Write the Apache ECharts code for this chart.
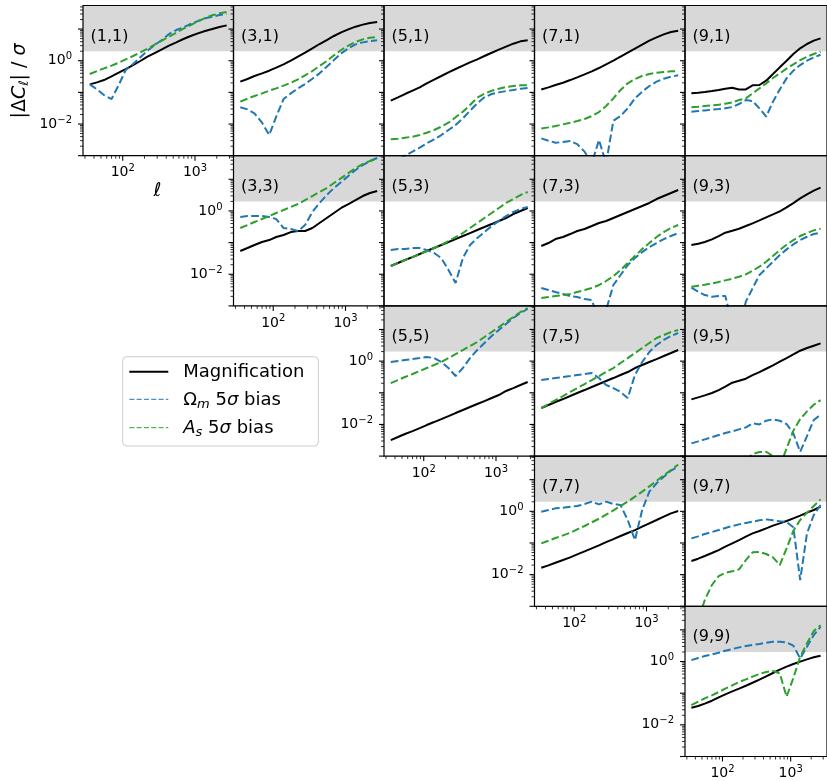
<!DOCTYPE html>
<html><head><meta charset="utf-8">
<script src="https://cdn.jsdelivr.net/npm/echarts@6/dist/echarts.min.js"></script>
<style>html,body{margin:0;padding:0;background:#fff}#c{width:827px;height:781px}</style>
</head><body><div id="c"></div>
<script>
// ---------------- data ----------------
const ell = [35, 44, 55, 70, 88, 110, 139, 175, 220, 276, 348, 437, 550, 692, 871, 1095, 1378, 1734, 2181, 2744];

const xMajorTicks = [100, 1000];
const xMinorTicks = [30, 40, 50, 60, 70, 80, 90, 200, 300, 400, 500, 600, 700, 800, 900, 2000, 3000];
const yMajorTicks = [0.001, 0.01, 0.1, 1, 10];
const yMinorTicks = [0.002, 0.003, 0.004, 0.005, 0.006, 0.007, 0.008, 0.009,
                     0.02, 0.03, 0.04, 0.05, 0.06, 0.07, 0.08, 0.09,
                     0.2, 0.3, 0.4, 0.5, 0.6, 0.7, 0.8, 0.9,
                     2, 3, 4, 5, 6, 7, 8, 9, 20, 30, 40, 50];
const xLabelValues = [100, 1000];
const xLabelExps = ['2', '3'];
const yLabelValues = [0.01, 1];
const yLabelExps = ['\u22122', '0'];
const bandLow = 2;
const seriesNames = ['Magnification', '\u03a9m 5\u03c3 bias', 'As 5\u03c3 bias'];

const mag_1_1 = [0.179, 0.207, 0.245, 0.321, 0.419, 0.547, 0.731, 0.98, 1.34, 1.75, 2.29, 2.99, 3.80, 4.85, 6.04, 7.33, 8.69, 10.0, 11.6, 13.1];
const om_1_1  = [0.179, 0.124, 0.0824, 0.0617, 0.171, 0.508, 0.787, 1.28, 2.07, 3.13, 4.51, 6.98, 9.33, 11.3, 14.5, 17.9, 21.8, 24.6, 27.8, 29.9];
const as_1_1  = [0.380, 0.473, 0.574, 0.697, 0.867, 1.10, 1.41, 1.84, 2.40, 3.21, 4.30, 5.74, 7.69, 10.3, 13.4, 17.5, 22.3, 27.2, 31.4, 34.6];

const mag_3_1 = [0.218, 0.264, 0.329, 0.399, 0.484, 0.603, 0.767, 1.00, 1.34, 1.79, 2.46, 3.37, 4.51, 6.04, 7.87, 9.79, 11.9, 13.8, 15.5, 16.7];
const om_3_1  = [0.0337, 0.0291, 0.0217, 0.0110, 0.00450, 0.0171, 0.0617, 0.0931, 0.134, 0.184, 0.270, 0.399, 0.649, 1.05, 1.71, 2.46, 3.29, 3.80, 4.20, 4.41];
const as_3_1  = [0.0508, 0.0632, 0.0767, 0.0931, 0.113, 0.134, 0.163, 0.202, 0.258, 0.345, 0.473, 0.681, 0.98, 1.48, 2.18, 2.99, 3.90, 4.73, 5.35, 5.61];

const mag_5_1 = [0.0546, 0.0697, 0.0887, 0.113, 0.144, 0.193, 0.252, 0.329, 0.430, 0.547, 0.697, 0.889, 1.10, 1.41, 1.79, 2.23, 2.78, 3.45, 4.09, 4.41];
const om_5_1  = [0.000449, 0.000729, 0.00100, 0.00134, 0.00179, 0.00245, 0.00328, 0.00450, 0.00647, 0.00929, 0.0151, 0.0264, 0.0450, 0.0697, 0.0887, 0.100, 0.110, 0.119, 0.131, 0.137];
const as_5_1  = [0.00328, 0.00344, 0.00370, 0.00398, 0.00450, 0.00532, 0.00647, 0.00824, 0.0110, 0.0163, 0.0245, 0.0398, 0.0679, 0.0910, 0.113, 0.131, 0.148, 0.159, 0.167, 0.167];

const mag_7_1 = [0.124, 0.144, 0.171, 0.202, 0.245, 0.298, 0.371, 0.461, 0.588, 0.767, 1.00, 1.34, 1.79, 2.40, 3.21, 4.30, 5.47, 6.81, 8.07, 8.89];
const om_7_1  = [0.00352, 0.00298, 0.00257, 0.00270, 0.00290, 0.00233, 0.00134, 0.000571, 0.00313, 0.000571, 0.0127, 0.0179, 0.0313, 0.0647, 0.105, 0.159, 0.218, 0.270, 0.313, 0.345];
const as_7_1  = [0.00729, 0.00785, 0.00865, 0.00977, 0.0110, 0.0124, 0.0144, 0.0179, 0.0239, 0.0371, 0.0647, 0.119, 0.193, 0.264, 0.329, 0.380, 0.419, 0.440, 0.461, 0.473];

const mag_9_1 = [0.0931, 0.0977, 0.103, 0.110, 0.119, 0.131, 0.141, 0.124, 0.124, 0.167, 0.171, 0.234, 0.380, 0.618, 1.00, 1.63, 2.46, 3.37, 4.30, 5.09];
const om_9_1  = [0.0245, 0.0258, 0.0270, 0.0284, 0.0298, 0.0313, 0.0344, 0.0429, 0.0573, 0.0533, 0.0313, 0.0171, 0.0508, 0.124, 0.277, 0.484, 0.731, 1.00, 1.28, 1.55];
const as_9_1  = [0.0337, 0.0353, 0.0371, 0.0389, 0.0408, 0.0440, 0.0484, 0.0573, 0.0647, 0.0931, 0.134, 0.193, 0.284, 0.399, 0.560, 0.767, 1.05, 1.34, 1.63, 1.93];

const mag_3_3 = [0.0541, 0.0673, 0.0836, 0.104, 0.120, 0.150, 0.173, 0.215, 0.232, 0.232, 0.288, 0.415, 0.597, 0.859, 1.24, 1.65, 2.21, 2.96, 3.67, 4.26];
const om_3_3  = [0.641, 0.690, 0.690, 0.690, 0.641, 0.555, 0.288, 0.268, 0.232, 0.358, 0.923, 1.78, 3.18, 5.28, 8.18, 12.7, 19.6, 28.2, 37.8, 46.9];
const as_3_3  = [0.288, 0.358, 0.446, 0.555, 0.690, 0.859, 1.07, 1.33, 1.65, 2.21, 2.96, 3.95, 5.28, 7.60, 10.9, 15.7, 22.6, 30.3, 37.8, 43.6];

const mag_5_3 = [0.0182, 0.0226, 0.0281, 0.0349, 0.0435, 0.0541, 0.0673, 0.0836, 0.104, 0.129, 0.161, 0.200, 0.249, 0.310, 0.385, 0.480, 0.597, 0.798, 0.993, 1.24];
const om_5_3  = [0.0581, 0.0625, 0.0625, 0.0673, 0.0673, 0.0581, 0.0468, 0.0325, 0.0136, 0.00527, 0.0325, 0.0836, 0.139, 0.215, 0.333, 0.480, 0.690, 0.923, 1.15, 1.33];
const as_5_3  = [0.0182, 0.0226, 0.0281, 0.0349, 0.0435, 0.0541, 0.0673, 0.0836, 0.112, 0.150, 0.200, 0.288, 0.415, 0.597, 0.859, 1.24, 1.78, 2.38, 3.18, 3.95];

const mag_7_3 = [0.0778, 0.0968, 0.129, 0.150, 0.186, 0.232, 0.268, 0.333, 0.415, 0.480, 0.597, 0.741, 0.923, 1.15, 1.43, 1.78, 2.38, 2.96, 3.67, 4.57];
const om_7_3  = [0.00366, 0.00317, 0.00274, 0.00237, 0.00205, 0.00190, 0.00164, 0.00153, 0.000357, 0.00074, 0.00456, 0.00944, 0.0195, 0.0325, 0.0502, 0.0723, 0.0968, 0.129, 0.161, 0.200];
const as_7_3  = [0.00177, 0.00190, 0.00205, 0.00220, 0.00237, 0.00274, 0.00317, 0.00366, 0.00456, 0.00610, 0.00877, 0.0136, 0.0226, 0.0376, 0.0625, 0.0968, 0.150, 0.215, 0.288, 0.358];

const mag_9_3 = [0.0836, 0.0923, 0.104, 0.126, 0.161, 0.205, 0.237, 0.274, 0.333, 0.405, 0.504, 0.627, 0.778, 0.968, 1.30, 1.77, 2.49, 3.33, 4.36, 5.42];
const om_9_3  = [0.00375, 0.00281, 0.00220, 0.00195, 0.00205, 0.00205, 0.00028, 0.000173, 0.00136, 0.00357, 0.00942, 0.0153, 0.0249, 0.0404, 0.0610, 0.0877, 0.120, 0.153, 0.186, 0.205];
const as_9_3  = [0.00404, 0.00435, 0.00467, 0.00514, 0.00566, 0.00640, 0.00723, 0.00836, 0.00991, 0.0129, 0.0173, 0.0249, 0.0376, 0.0581, 0.0857, 0.120, 0.161, 0.200, 0.243, 0.274];

const mag_5_5 = [0.00321, 0.00400, 0.00498, 0.00618, 0.00769, 0.00957, 0.0119, 0.0148, 0.0184, 0.0229, 0.0285, 0.0355, 0.0441, 0.0548, 0.0682, 0.0849, 0.114, 0.141, 0.176, 0.219];
const om_5_5  = [0.936, 1.01, 1.08, 1.16, 1.25, 1.35, 1.25, 0.936, 0.605, 0.338, 0.605, 1.25, 2.24, 3.73, 6.21, 9.62, 14.9, 23.0, 33.1, 44.3];
const as_5_5  = [0.203, 0.253, 0.315, 0.391, 0.486, 0.605, 0.753, 0.936, 1.25, 1.67, 2.24, 3.00, 4.01, 5.77, 8.30, 11.9, 17.2, 24.7, 35.6, 47.6];

const mag_7_5 = [0.0330, 0.0410, 0.0510, 0.0634, 0.0789, 0.0982, 0.122, 0.152, 0.189, 0.235, 0.292, 0.364, 0.453, 0.605, 0.753, 0.936, 1.16, 1.45, 1.80, 2.24];
const om_7_5  = [0.253, 0.272, 0.292, 0.315, 0.338, 0.364, 0.391, 0.421, 0.292, 0.176, 0.141, 0.106, 0.0682, 0.364, 0.936, 1.94, 3.23, 4.65, 6.21, 7.73];
const as_7_5  = [0.0330, 0.0441, 0.0590, 0.0789, 0.106, 0.141, 0.189, 0.253, 0.338, 0.453, 0.605, 0.871, 1.25, 1.80, 2.59, 3.73, 5.37, 6.68, 8.30, 9.62];

const mag_9_5 = [0.0618, 0.0716, 0.0828, 0.0982, 0.122, 0.156, 0.208, 0.240, 0.278, 0.363, 0.452, 0.575, 0.735, 0.959, 1.25, 1.63, 2.13, 2.59, 3.07, 3.64];
const om_9_5  = [0.00252, 0.00291, 0.00337, 0.00399, 0.00462, 0.00535, 0.00603, 0.00698, 0.00807, 0.0108, 0.0100, 0.0131, 0.0145, 0.0131, 0.0103, 0.00521, 0.00137, 0.00430, 0.0138, 0.0203];
const as_9_5  = [null, null, null, null, null, null, null, null, 0.00075, 0.00116, 0.00134, 0.00137, 0.00100, 0.00046, 0.00175, 0.00632, 0.0148, 0.0258, 0.0420, 0.0589];

const mag_7_7 = [0.0166, 0.0196, 0.0238, 0.0290, 0.0352, 0.0438, 0.0543, 0.0676, 0.0841, 0.107, 0.133, 0.166, 0.207, 0.256, 0.327, 0.417, 0.531, 0.678, 0.863, 1.02];
const om_7_7  = [0.975, 1.10, 1.24, 1.30, 1.40, 1.47, 1.70, 2.02, 1.66, 2.02, 1.70, 1.58, 0.531, 0.124, 1.10, 4.18, 7.66, 12.4, 19.2, 25.7];
const as_7_7  = [0.0973, 0.118, 0.144, 0.174, 0.211, 0.269, 0.344, 0.449, 0.585, 0.783, 1.07, 1.47, 2.02, 2.90, 4.18, 6.15, 9.08, 13.7, 20.2, 29.8];

const mag_9_7 = [0.0269, 0.0319, 0.0387, 0.0482, 0.0598, 0.0764, 0.0973, 0.124, 0.158, 0.201, 0.239, 0.290, 0.352, 0.417, 0.494, 0.600, 0.728, 0.906, 1.10, 1.40];
const om_9_7  = [0.140, 0.162, 0.192, 0.222, 0.256, 0.297, 0.344, 0.387, 0.428, 0.471, 0.519, 0.557, 0.519, 0.482, 0.459, 0.312, 0.00676, 0.201, 0.764, 1.58];
const as_9_7  = [0.0001, 0.00037, 0.00158, 0.00470, 0.00904, 0.0115, 0.0127, 0.0147, 0.0289, 0.0506, 0.0518, 0.0448, 0.0352, 0.0201, 0.0676, 0.244, 0.531, 0.906, 1.47, 2.39];

const mag_9_9 = [0.0348, 0.0393, 0.0466, 0.0578, 0.0738, 0.0916, 0.114, 0.139, 0.172, 0.214, 0.267, 0.340, 0.434, 0.552, 0.687, 0.834, 0.989, 1.17, 1.36, 1.53];
const om_9_9  = [1.11, 1.29, 1.49, 1.68, 1.90, 2.20, 2.48, 2.80, 3.09, 3.32, 3.57, 3.94, 4.23, 4.23, 4.03, 3.16, 1.26, 2.94, 6.87, 12.6];
const as_9_9  = [0.0422, 0.0538, 0.0686, 0.0853, 0.109, 0.139, 0.177, 0.225, 0.273, 0.332, 0.403, 0.466, 0.501, 0.423, 0.0774, 0.301, 1.42, 3.75, 9.20, 13.9];

// ---------------- layout / style ----------------
const FONT = 'DejaVu Sans';
const xMin = 28.2, xMax = 3410, yMin = 0.001, yMax = 55.5;
const gridLeft0 = 83, gridTop0 = 5.5, cellW = 150.5, cellH = 150.2;
const COLORS = ['#000000', '#1f77b4', '#2ca02c'];

const panels = [
  {i:1, j:1, mag:mag_1_1, om:om_1_1, as:as_1_1},
  {i:3, j:1, mag:mag_3_1, om:om_3_1, as:as_3_1},
  {i:5, j:1, mag:mag_5_1, om:om_5_1, as:as_5_1},
  {i:7, j:1, mag:mag_7_1, om:om_7_1, as:as_7_1},
  {i:9, j:1, mag:mag_9_1, om:om_9_1, as:as_9_1},
  {i:3, j:3, mag:mag_3_3, om:om_3_3, as:as_3_3},
  {i:5, j:3, mag:mag_5_3, om:om_5_3, as:as_5_3},
  {i:7, j:3, mag:mag_7_3, om:om_7_3, as:as_7_3},
  {i:9, j:3, mag:mag_9_3, om:om_9_3, as:as_9_3},
  {i:5, j:5, mag:mag_5_5, om:om_5_5, as:as_5_5},
  {i:7, j:5, mag:mag_7_5, om:om_7_5, as:as_7_5},
  {i:9, j:5, mag:mag_9_5, om:om_9_5, as:as_9_5},
  {i:7, j:7, mag:mag_7_7, om:om_7_7, as:as_7_7},
  {i:9, j:7, mag:mag_9_7, om:om_9_7, as:as_9_7},
  {i:9, j:9, mag:mag_9_9, om:om_9_9, as:as_9_9}
];

const tickRich = {
  b: {fontFamily: FONT, fontSize: 14, color: '#000'},
  e: {fontFamily: FONT, fontSize: 10, color: '#000', padding: [0, 0, 8, 0]}
};

function bandRender(params, api) {
  const tl = api.coord([xMin, yMax]);
  const br = api.coord([xMax, bandLow]);
  return {type: 'rect', shape: {x: tl[0], y: tl[1], width: br[0] - tl[0], height: br[1] - tl[1]},
          style: {fill: '#d8d8d8'}};
}

function makeDecor(label) {
  return function (params, api) {
    const v = api.value(0), k = api.value(1);
    const tl = api.coord([xMin, yMax]);
    const br = api.coord([xMax, yMin]);
    if (k === 1 || k === 2) {
      const px = api.coord([v, yMin])[0];
      const len = k === 1 ? 5 : 3;
      return {type: 'line', shape: {x1: px, y1: br[1], x2: px, y2: br[1] + len},
              style: {stroke: '#000', lineWidth: k === 1 ? 1.1 : 0.8}};
    }
    if (k === 3 || k === 4) {
      const py = api.coord([xMin, v])[1];
      const len = k === 3 ? 5 : 3;
      return {type: 'line', shape: {x1: tl[0] - len, y1: py, x2: tl[0], y2: py},
              style: {stroke: '#000', lineWidth: k === 3 ? 1.1 : 0.8}};
    }
    if (k === 5) {
      const px = api.coord([v, yMin])[0];
      const ex = xLabelExps[xLabelValues.indexOf(v)];
      return {type: 'text', x: px, y: br[1] + 8,
              style: {text: '{b|10}{e|' + ex + '}', align: 'center', verticalAlign: 'top', rich: tickRich}};
    }
    if (k === 6) {
      const py = api.coord([xMin, v])[1];
      const ex = yLabelExps[yLabelValues.indexOf(v)];
      return {type: 'text', x: tl[0] - 11, y: py,
              style: {text: '{b|10}{e|' + ex + '}', align: 'right', verticalAlign: 'middle', rich: tickRich}};
    }
    if (k === 7) {
      return {type: 'rect', shape: {x: tl[0], y: tl[1], width: br[0] - tl[0], height: br[1] - tl[1]},
              style: {fill: 'none', stroke: '#000', lineWidth: 1.2}};
    }
    if (k === 8) {
      return {type: 'text', x: tl[0] + 7.5, y: tl[1] + 31,
              style: {text: label, fill: '#000', font: '16px "' + FONT + '"', align: 'left', verticalAlign: 'middle'}};
    }
    return null;
  };
}

const grids = [], xAxes = [], yAxes = [], series = [];
const hiddenAxis = {axisLine: {show: false}, axisTick: {show: false}, axisLabel: {show: false},
                    splitLine: {show: false}, minorTick: {show: false}, minorSplitLine: {show: false}};

panels.forEach(function (p, g) {
  const row = (p.j - 1) / 2, col = (p.i - 1) / 2;
  const diag = row === col;
  grids.push({left: gridLeft0 + col * cellW, top: gridTop0 + row * cellH, width: cellW, height: cellH});
  xAxes.push(Object.assign({type: 'log', logBase: 10, gridIndex: g, min: xMin, max: xMax}, hiddenAxis));
  yAxes.push(Object.assign({type: 'log', logBase: 10, gridIndex: g, min: yMin, max: yMax}, hiddenAxis));

  series.push({type: 'custom', xAxisIndex: g, yAxisIndex: g, z: 1, silent: true, clip: false,
               data: [[xMin, yMax]], renderItem: bandRender});

  [p.mag, p.om, p.as].forEach(function (vals, s) {
    series.push({
      type: 'line', name: seriesNames[s], xAxisIndex: g, yAxisIndex: g, z: 2, silent: true,
      data: ell.map(function (l, k) { return [l, vals[k]]; }),
      showSymbol: false, symbol: 'none', smooth: false, clip: true, connectNulls: false,
      lineStyle: {color: COLORS[s], width: 2, type: s === 0 ? 'solid' : [7.7, 3.3], cap: 'butt'}
    });
  });

  const d = [];
  yMajorTicks.forEach(function (v) { d.push([v, 3]); });
  yMinorTicks.forEach(function (v) { d.push([v, 4]); });
  d.push([xMin, 7]);
  d.push([xMin, 8]);
  if (diag) {
    xMajorTicks.forEach(function (v) { d.push([v, 1]); });
    xMinorTicks.forEach(function (v) { d.push([v, 2]); });
    xLabelValues.forEach(function (v) { d.push([v, 5]); });
    yLabelValues.forEach(function (v) { d.push([v, 6]); });
  }
  series.push({type: 'custom', xAxisIndex: g, yAxisIndex: g, z: 5, silent: true, clip: false,
               data: d, renderItem: makeDecor('(' + p.i + ',' + p.j + ')')});
});

const graphic = [
  // y axis title
  {type: 'text', x: 20, y: 81, rotation: Math.PI / 2,
   style: {text: '{n||\u0394}{i|C}{s|\u2113}{n|| / }{i|\u03c3}', align: 'center', verticalAlign: 'middle',
           rich: {n: {fontFamily: FONT, fontSize: 19, color: '#000'},
                  i: {fontFamily: FONT, fontSize: 19, fontStyle: 'italic', color: '#000'},
                  s: {fontFamily: FONT, fontSize: 13, fontStyle: 'italic', color: '#000', padding: [9, 0, 0, 0]}}}},
  // x axis title
  {type: 'text', x: 157.5, y: 191,
   style: {text: '\u2113', font: 'italic 19px "' + FONT + '"', fill: '#000', align: 'center', verticalAlign: 'middle'}},
  // legend
  {type: 'rect', shape: {x: 122.7, y: 356.7, width: 195.6, height: 89.3, r: 4},
   style: {fill: 'rgba(255,255,255,0.8)', stroke: '#cccccc', lineWidth: 1}},
  {type: 'line', shape: {x1: 129.3, y1: 371.7, x2: 168.3, y2: 371.7}, style: {stroke: COLORS[0], lineWidth: 2}},
  {type: 'line', shape: {x1: 129.3, y1: 399.3, x2: 168.3, y2: 399.3}, style: {stroke: COLORS[1], lineWidth: 1, lineDash: [5.1, 2.2]}},
  {type: 'line', shape: {x1: 129.3, y1: 427.7, x2: 168.3, y2: 427.7}, style: {stroke: COLORS[2], lineWidth: 1, lineDash: [5.1, 2.2]}},
  {type: 'text', x: 183.3, y: 372,
   style: {text: seriesNames[0], font: '18px "' + FONT + '"', fill: '#000', align: 'left', verticalAlign: 'middle'}},
  {type: 'text', x: 183.3, y: 400,
   style: {text: '{n|\u03a9}{s|m}{n| 5}{i|\u03c3}{n| bias}', align: 'left', verticalAlign: 'middle',
           rich: {n: {fontFamily: FONT, fontSize: 18, color: '#000'},
                  i: {fontFamily: FONT, fontSize: 18, fontStyle: 'italic', color: '#000'},
                  s: {fontFamily: FONT, fontSize: 13, fontStyle: 'italic', color: '#000', padding: [9, 0, 0, 0]}}}},
  {type: 'text', x: 183.3, y: 428.5,
   style: {text: '{i|A}{s|s}{n| 5}{i|\u03c3}{n| bias}', align: 'left', verticalAlign: 'middle',
           rich: {n: {fontFamily: FONT, fontSize: 18, color: '#000'},
                  i: {fontFamily: FONT, fontSize: 18, fontStyle: 'italic', color: '#000'},
                  s: {fontFamily: FONT, fontSize: 13, fontStyle: 'italic', color: '#000', padding: [9, 0, 0, 0]}}}}
];

const chart = echarts.init(document.getElementById('c'), null, {renderer: 'canvas'});
chart.setOption({
  animation: false,
  backgroundColor: '#ffffff',
  grid: grids,
  xAxis: xAxes,
  yAxis: yAxes,
  series: series,
  graphic: graphic
});
</script>
</body></html>
